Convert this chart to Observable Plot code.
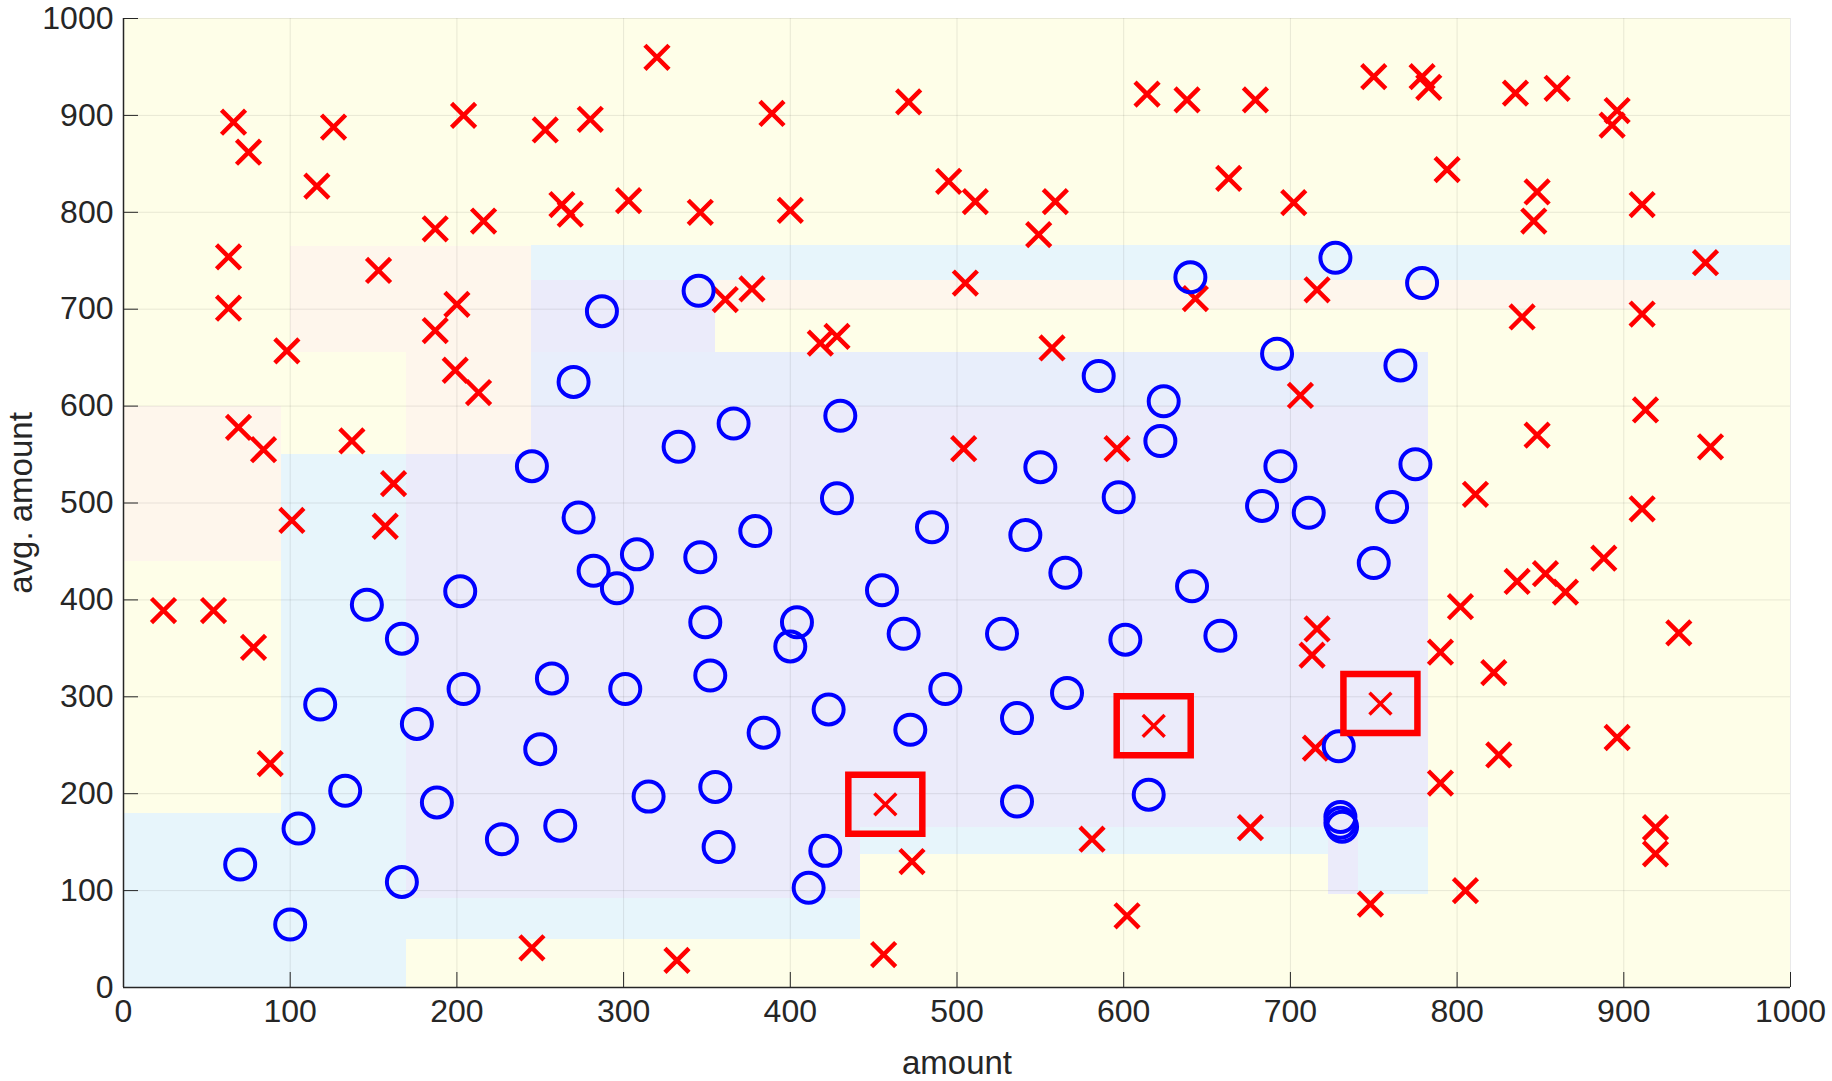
<!DOCTYPE html>
<html>
<head>
<meta charset="utf-8">
<script src="https://cdn.jsdelivr.net/npm/d3@7"></script>
<script src="https://cdn.jsdelivr.net/npm/@observablehq/plot@0.6"></script>
<style>
  html, body { margin: 0; padding: 0; background: #ffffff; }
  #chart svg { display: block; }
</style>
</head>
<body>
<div id="chart"></div>
<script>
// ---- data ----
const ticks = [0, 100, 200, 300, 400, 500, 600, 700, 800, 900, 1000];

const redX = [320,66,75,126,116,204,253,280,389,471,614,638,679,750,779,783,835,860,893,896,794,848,846,911,949,839,911,913,848,952,811,911,888,853,836,865,802,933,790,822,896,825,790,919,919,805,748,716,713,715,581,676,602,473,456,332,245,88,78,24,54,101,157,162,137,84,69,98,63,63,153,187,216,187,200,199,213,263,268,303,346,400,361,377,418,428,495,511,505,549,559,557,504,596,643,663,702,716,706];
const redY = [960,893,862,888,827,900,885,896,902,914,922,916,916,940,940,929,923,928,890,905,844,821,791,808,748,692,695,596,570,558,509,494,443,427,419,408,393,366,346,325,258,240,211,165,138,100,86,370,343,247,153,165,74,130,34,28,41,231,351,389,389,482,476,520,564,555,578,657,701,754,740,783,791,678,705,637,614,808,798,812,800,802,710,721,665,672,832,811,727,777,811,660,556,556,711,835,810,720,611];

const blueX = [70,100,105,118,133,146,167,176,167,188,202,204,227,245,250,257,262,270,273,282,287,296,301,308,315,333,345,346,349,352,355,357,366,379,384,400,404,411,421,423,430,428,455,468,472,485,493,527,536,536,541,550,565,566,585,597,601,615,622,624,641,640,658,683,694,692,711,727,729,730,730,731,750,766,761,775,779];
const blueY = [127,65,164,292,203,395,360,272,109,191,409,308,153,538,246,319,167,625,485,430,698,412,308,447,197,558,719,444,377,322,207,145,582,471,263,352,377,103,141,287,590,505,410,365,266,475,308,365,278,192,467,537,428,304,631,506,359,199,564,605,414,733,363,497,538,654,490,753,249,176,170,166,438,642,496,540,727];

const boxX = [457, 618, 754];
const boxY = [189, 270, 293];

// background classification regions (data units)
const regionX1 = [0,   100, 170, 355, 245, 245, 245, 245, 95,  170, 170, 170, 0,   442, 723, 741, 0];
const regionX2 = [1000,245, 245, 1000,1000,355, 783, 783, 170, 783, 442, 442, 170, 783, 741, 783, 95];
const regionY1 = [0,   655, 550, 700, 730, 655, 550, 600, 180, 165, 92,  50,  0,   137, 96,  96,  440];
const regionY2 = [1000,765, 655, 730, 766, 730, 655, 655, 550, 550, 165, 92,  180, 165, 165, 137, 600];
const regionClass = ["yellow","peach","peach","peach","cyan","lavender","lavender","skyLavender","cyan","lavender","lavender","cyan","cyan","cyan","lavender","cyan","peach"];
const regionColors = {yellow: "#fefee8", peach: "#fef6ec", cyan: "#e7f5fb", lavender: "#ebebfa", skyLavender: "#e8eefb"};

// ---- tables ----
const red = redX.map((x, i) => ({x, y: redY[i]}));
const blue = blueX.map((x, i) => ({x, y: blueY[i]}));
const boxed = boxX.map((x, i) => ({x, y: boxY[i]}));
const regions = regionX1.map((x1, i) => ({x1, x2: regionX2[i], y1: regionY1[i], y2: regionY2[i], cls: regionClass[i]}));

const boxSymbol = {draw(ctx) { ctx.rect(-37, -29.5, 74, 59); }};
const font = "'Liberation Sans', Arial, sans-serif";

const chart = Plot.plot({
  width: 1832,
  height: 1081,
  marginLeft: 123,
  marginRight: 42,
  marginTop: 18,
  marginBottom: 94,
  x: {domain: [0, 1000]},
  y: {domain: [0, 1000]},
  color: {type: "identity"},
  style: {fontFamily: font, fontSize: "32px", color: "#262626", background: "#ffffff", overflow: "visible"},
  marks: [
    Plot.rect(regions, {x1: "x1", x2: "x2", y1: "y1", y2: "y2", fill: d => regionColors[d.cls], shapeRendering: "crispEdges"}),
    Plot.gridX(ticks, {stroke: "#262626", strokeOpacity: 0.1, strokeWidth: 1}),
    Plot.gridY(ticks, {stroke: "#262626", strokeOpacity: 0.1, strokeWidth: 1}),
    Plot.ruleX([0], {stroke: "#262626", strokeWidth: 1.5}),
    Plot.ruleY([0], {stroke: "#262626", strokeWidth: 1.5}),
    Plot.axisX(ticks, {tickSize: -15, tickPadding: 27, tickFormat: "d", label: null, stroke: "#262626", fill: "#262626", fontSize: 32}),
    Plot.axisY(ticks, {tickSize: -15, tickPadding: 25, tickFormat: "d", label: null, stroke: "#262626", fill: "#262626", fontSize: 32}),
    Plot.dot(red, {x: "x", y: "y", symbol: "times", r: 11, stroke: "#ff0000", strokeWidth: 4.5}),
    Plot.dot(blue, {x: "x", y: "y", r: 15, stroke: "#0000ff", strokeWidth: 4, fill: "none"}),
    Plot.dot(boxed, {x: "x", y: "y", symbol: "times", r: 10, stroke: "#ff0000", strokeWidth: 3.5}),
    Plot.dot(boxed, {x: "x", y: "y", symbol: boxSymbol, r: 10, stroke: "#ff0000", strokeWidth: 6.5, fill: "none"}),
    Plot.text(["amount"], {text: d => d, frameAnchor: "bottom", dy: 76, lineAnchor: "middle", fontSize: 33, fill: "#262626"}),
    Plot.text(["avg. amount"], {text: d => d, frameAnchor: "left", dx: -102, rotate: -90, lineAnchor: "middle", textAnchor: "middle", fontSize: 33, fill: "#262626"})
  ]
});
document.getElementById("chart").appendChild(chart);
</script>
</body>
</html>
